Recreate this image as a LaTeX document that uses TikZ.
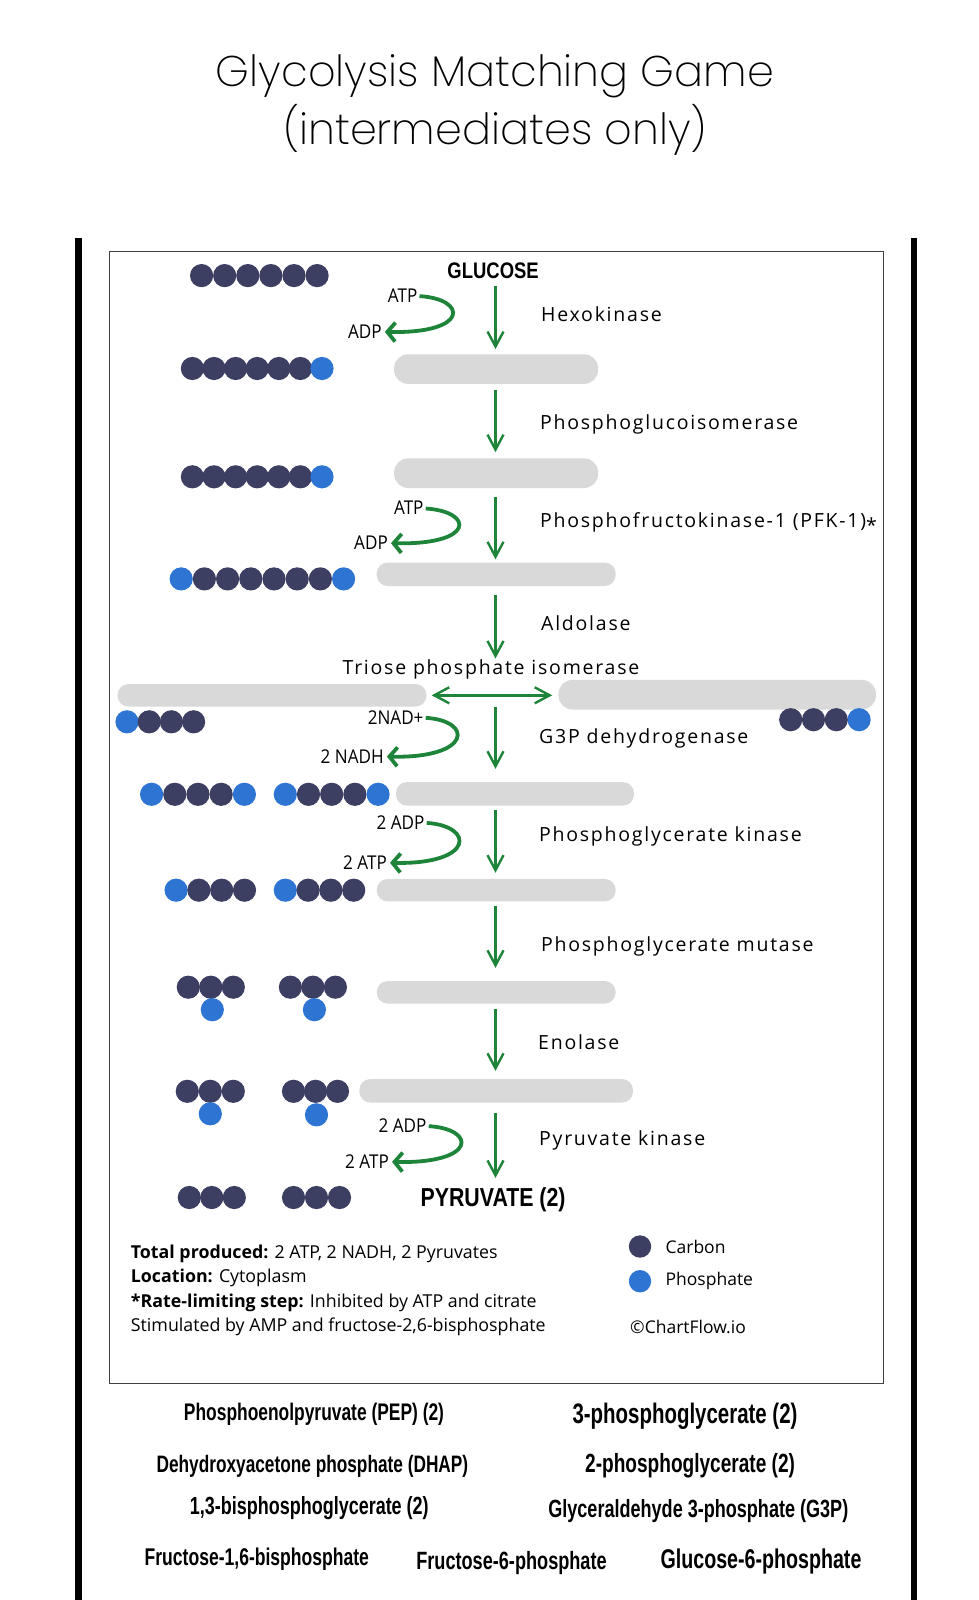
\documentclass[tikz,border=0pt]{standalone}
\usepackage{fontspec}
\setmainfont{Open Sans}
\newfontfamily\titlefont{Poppins ExtraLight}
\newfontfamily\enzfont{Open Sans}[LetterSpace=9]
\newfontfamily\cofont{Open Sans}[FakeStretch=0.9]
\newfontfamily\notefont{Open Sans}
\newfontfamily\gamefont{Liberation Sans}[FakeStretch=0.725]
\newfontfamily\endfont{Liberation Sans}[FakeStretch=0.82]
\usepackage{tikz}
\usetikzlibrary{
    arrows.meta,
    calc,
    positioning
}
\definecolor{cb}{HTML}{3C3E62}
\definecolor{ph}{HTML}{2D74D3}
\definecolor{glycgreen}{HTML}{1E843A}
\definecolor{glycpill}{HTML}{D9D9D9}
\tikzstyle{arrow}=[line width=2.4pt,-{Straight Barb[length=15pt,width=16pt]},draw=glycgreen]
\tikzstyle{cofarrow}=[line width=3.8pt,-{Straight Barb[length=8pt,width=19pt]},draw=glycgreen]
% one row of beads: first x, step, y, colours
\newcommand{\beads}[4]{%
    \foreach \c [count=\i from 0] in {#4}
        \fill[\c] ({#1+\i*#2},#3) circle[radius=11.6pt];}

\begin{document}
\begin{tikzpicture}[
    x=1pt, y=-1pt,
    pill/.style={
        rectangle,
        rounded corners=11pt,
        fill=glycpill,
        minimum height=23.5pt,
        inner sep=0pt
    },
    tallpill/.style={
        pill,
        rounded corners=14pt,
        minimum height=29.6pt
    },
    enzyme/.style={
        anchor=west,
        inner sep=0pt,
        text height=14pt,
        text depth=0pt,
        font=\enzfont\fontsize{19.5}{22}\selectfont
    },
    cofactor/.style={
        anchor=east,
        inner sep=0pt,
        text height=13pt,
        text depth=0pt,
        font=\cofont\fontsize{19}{22}\selectfont
    },
    answer/.style={
        inner sep=0pt,
        font=\gamefont\bfseries
    }
]
\useasboundingbox (0,0) rectangle (978,1600);

% title
\node[font=\titlefont\fontsize{43}{58}\selectfont,align=center] (title)
    at (495,105) {Glycolysis Matching Game\\(intermediates only)};

% sheet
\fill[black] (74.5,238) rectangle (81.7,1600);
\fill[black] (910.6,238) rectangle (916.8,1600);
\draw[line width=0.9pt,black!75] (109.2,251.1) rectangle (883.1,1383.3);

\coordinate (axis) at (495.5,0);

% main pathway
\node[font=\endfont\bfseries\fontsize{22.5}{26}\selectfont] (glucose) at (493.1,270.5) {GLUCOSE};
\node[tallpill,minimum width=204pt] (pillA) at (496.1,369.1) {};
\node[tallpill,minimum width=204pt] (pillB) at (496.1,473.2) {};
\node[pill,minimum width=239pt] (pillC) at (496.2,574.3) {};
\node[enzyme,anchor=center] (triose) at (491,667.7) {Triose phosphate isomerase};
\node[pill,minimum width=309pt,minimum height=22.5pt] (pillL) at (272,695.3) {};
\node[tallpill,minimum width=317.5pt] (pillR) at (717.2,694.7) {};
\coordinate (split) at (495.5,696.3);
\node[pill,minimum width=238pt] (pillF) at (515,793.8) {};
\node[pill,minimum width=239pt,minimum height=22.5pt] (pillG) at (496.2,890.2) {};
\node[pill,minimum width=239pt,minimum height=22.5pt] (pillH) at (496.2,992.3) {};
\node[pill,minimum width=273.6pt] (pillI) at (496.2,1090.8) {};
\node[font=\endfont\bfseries\fontsize{26}{29}\selectfont] (pyruvate) at (493.1,1199.6) {PYRUVATE (2)};

\draw[arrow,shorten <=4pt,shorten >=5pt] (glucose.south -| axis) -- (pillA.north -| axis);
\draw[arrow,shorten <=6pt,shorten >=6pt] (pillA.south -| axis) -- (pillB.north -| axis);
\draw[arrow,shorten <=9pt,shorten >=3pt] (pillB.south -| axis) -- (pillC.north -| axis);
\draw[arrow,shorten <=9pt,shorten >=2pt] (pillC.south -| axis) -- (triose.north -| axis);
\draw[arrow,{Straight Barb[length=15pt,width=16pt]}-{Straight Barb[length=15pt,width=16pt]},
    shorten <=5pt,shorten >=6pt] (pillL.east) -- (pillL.east -| pillR.west);
\draw[arrow,shorten <=11pt,shorten >=13pt] (split) -- (pillF.north -| axis);
\draw[arrow,shorten <=4pt,shorten >=6pt] (pillF.south -| axis) -- (pillG.north -| axis);
\draw[arrow,shorten <=4pt,shorten >=13pt] (pillG.south -| axis) -- (pillH.north -| axis);
\draw[arrow,shorten <=5pt,shorten >=8pt] (pillH.south -| axis) -- (pillI.north -| axis);
\draw[arrow,shorten <=10pt,shorten >=6pt] (pillI.south -| axis) -- (pyruvate.north -| axis);

% enzymes
\node[enzyme] (hexo) at (541,314.4) {Hexokinase};
\node[enzyme] (pgi) at (540,422.7) {Phosphoglucoisomerase};
\node[enzyme] (pfk) at (540,520.7) {Phosphofructokinase-1 (PFK-1)\raisebox{-0.25em}{*}};
\node[enzyme] (aldo) at (541,623.8) {Aldolase};
\node[enzyme] (gapdh) at (539,736.1) {G3P dehydrogenase};
\node[enzyme] (pgk) at (539,834.1) {Phosphoglycerate kinase};
\node[enzyme] (pgm) at (541,944.3) {Phosphoglycerate mutase};
\node[enzyme] (eno) at (538,1042.3) {Enolase};
\node[enzyme] (pk) at (539,1138.3) {Pyruvate kinase};

% cofactors
\node[cofactor] (atpA) at (417.5,296) {ATP};
\node[cofactor] (adpA) at (381.8,331.8) {ADP};
\node[cofactor] (atpB) at (423.7,508.4) {ATP};
\node[cofactor] (adpB) at (388,543.1) {ADP};
\node[cofactor] (nadC) at (423.7,717.7) {2NAD+};
\node[cofactor] (nadhC) at (383.9,756.5) {2 NADH};
\node[cofactor] (adpD) at (424.7,822.8) {2 ADP};
\node[cofactor] (atpD) at (387,862.7) {2 ATP};
\node[cofactor] (adpE) at (426.7,1126) {2 ADP};
\node[cofactor] (atpE) at (389,1161.8) {2 ATP};

\draw[cofarrow,shorten <=2pt,shorten >=3pt] (atpA.east) .. controls +(50,3) and +(88,2) .. (adpA.east);
\draw[cofarrow,shorten <=2pt,shorten >=3pt] (atpB.east) .. controls +(50,3) and +(88,2) .. (adpB.east);
\draw[cofarrow,shorten <=2pt,shorten >=3pt] (nadC.east) .. controls +(50,3) and +(88,2) .. (nadhC.east);
\draw[cofarrow,shorten <=2pt,shorten >=3pt] (adpD.east) .. controls +(50,3) and +(88,2) .. (atpD.east);
\draw[cofarrow,shorten <=2pt,shorten >=3pt] (adpE.east) .. controls +(50,3) and +(88,2) .. (atpE.east);

% carbon skeletons
\beads{201.6}{23.1}{275.6}{cb,cb,cb,cb,cb,cb}
\beads{192.4}{21.6}{368.5}{cb,cb,cb,cb,cb,cb,ph}
\beads{192.4}{21.6}{476.8}{cb,cb,cb,cb,cb,cb,ph}
\beads{181.2}{23.2}{578.9}{ph,cb,cb,cb,cb,cb,cb,ph}
\beads{127}{22.2}{721.8}{ph,cb,cb,cb}
\beads{790.7}{22.8}{719.7}{cb,cb,cb,ph}
\beads{151.6}{23.2}{794.3}{ph,cb,cb,cb,ph}
\beads{285.3}{23.2}{794.3}{ph,cb,cb,cb,ph}
\beads{176.1}{22.8}{890.2}{ph,cb,cb,cb}
\beads{285.3}{22.8}{890.2}{ph,cb,cb,cb}
\beads{188.3}{22.5}{987.2}{cb,cb,cb}
\beads{290.4}{22.5}{987.2}{cb,cb,cb}
\beads{212.3}{0}{1009.7}{ph}
\beads{314.4}{0}{1009.7}{ph}
\beads{187.3}{23}{1091.3}{cb,cb,cb}
\beads{293.5}{22}{1091.3}{cb,cb,cb}
\beads{210.3}{0}{1113.8}{ph}
\beads{316.5}{0}{1114.8}{ph}
\beads{189.3}{22.5}{1197.5}{cb,cb,cb}
\beads{293.5}{23}{1197.5}{cb,cb,cb}

% notes and key
\node[anchor=west,align=left,inner sep=0pt,
    font=\notefont\fontsize{17.8}{24.5}\selectfont] (notes) at (130.7,1290.4)
    {\textbf{Total produced:} 2 ATP, 2 NADH, 2 Pyruvates\\
    \textbf{Location:} Cytoplasm\\
    \textbf{*Rate-limiting step:} Inhibited by ATP and citrate\\
    Stimulated by AMP and fructose-2,6-bisphosphate};
\node[circle,fill=cb,inner sep=0pt,minimum size=22.4pt] (keyC) at (640,1246.5) {};
\node[circle,fill=ph,inner sep=0pt,minimum size=22.4pt] (keyP) at (640,1281.2) {};
\node[right=14pt of keyC,inner sep=0pt,font=\fontsize{17.5}{20}\selectfont] (carbon) {Carbon};
\node[right=14pt of keyP,inner sep=0pt,font=\fontsize{17.5}{20}\selectfont] (phosphate) {Phosphate};
\node[anchor=west,inner sep=0pt,font=\fontsize{17.5}{20}\selectfont] (credit) at (630,1327) {©ChartFlow.io};

% answers
\node[answer,font=\gamefont\bfseries\fontsize{24}{28}\selectfont] (pep) at (314,1414) {Phosphoenolpyruvate (PEP) (2)};
\node[answer,font=\gamefont\bfseries\fontsize{28.2}{32}\selectfont] (pg3) at (685,1416) {3-phosphoglycerate (2)};
\node[answer,font=\gamefont\bfseries\fontsize{23.8}{28}\selectfont] (dhap) at (312.4,1466) {Dehydroxyacetone phosphate (DHAP)};
\node[answer,font=\gamefont\bfseries\fontsize{26.3}{30}\selectfont] (pg2) at (690.1,1466) {2-phosphoglycerate (2)};
\node[answer,font=\gamefont\bfseries\fontsize{24.8}{28}\selectfont] (bpg) at (309.3,1508) {1,3-bisphosphoglycerate (2)};
\node[answer,font=\gamefont\bfseries\fontsize{24.9}{28}\selectfont] (g3p) at (698.3,1511) {Glyceraldehyde 3-phosphate (G3P)};
\node[answer,font=\gamefont\bfseries\fontsize{24.2}{28}\selectfont] (fbp) at (256.8,1559) {Fructose-1,6-bisphosphate};
\node[answer,font=\gamefont\bfseries\fontsize{25}{28}\selectfont] (f6p) at (511.5,1563) {Fructose-6-phosphate};
\node[answer,font=\gamefont\bfseries\fontsize{27.1}{30}\selectfont] (g6p) at (761,1561) {Glucose-6-phosphate};
\end{tikzpicture}
\end{document}
